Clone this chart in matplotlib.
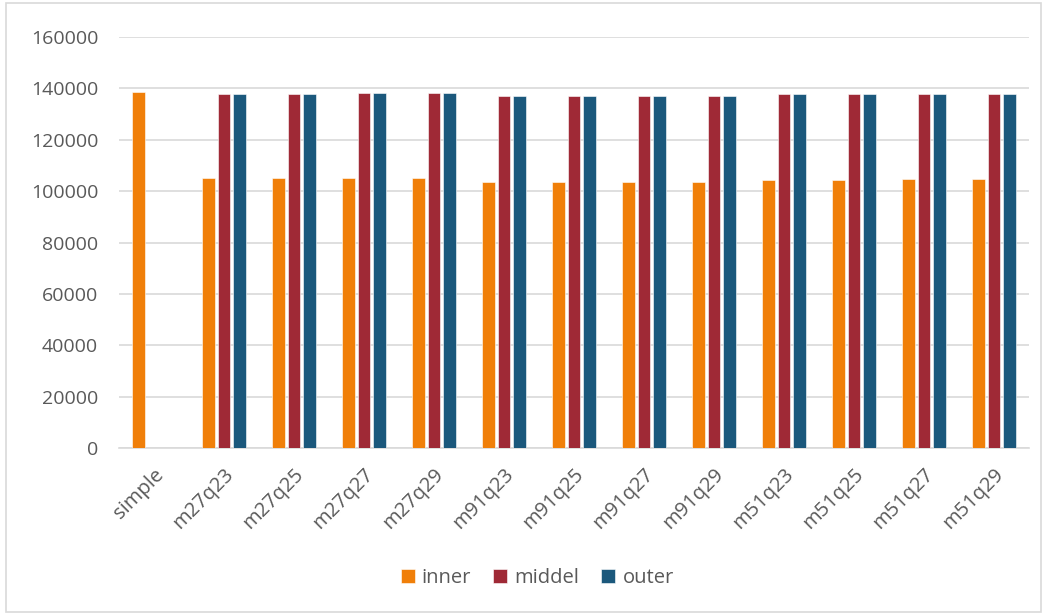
import numpy as np
import matplotlib.pyplot as plt
from matplotlib.patches import Rectangle

# Data
categories = ['simple', 'm27q23', 'm27q25', 'm27q27', 'm27q29',
              'm91q23', 'm91q25', 'm91q27', 'm91q29',
              'm51q23', 'm51q25', 'm51q27', 'm51q29']
inner = [138500, 105000, 105000, 105100, 105100,
         103700, 103700, 103700, 103700,
         104500, 104500, 104600, 104600]
middel = [0, 137800, 138000, 138100, 138100,
          137000, 137000, 137000, 137000,
          137700, 137700, 137800, 137800]
outer = [0, 138000, 138000, 138100, 138100,
         137000, 137000, 137000, 137000,
         137700, 137700, 137800, 137800]

plt.rcParams['font.family'] = ['Open Sans', 'DejaVu Sans']
text_color = '#595959'
grid_color = '#D9D9D9'

fig = plt.figure(figsize=(10.45, 6.15), dpi=100)
ax = fig.add_axes([0.1139, 0.2715, 0.8708, 0.6683])

x = np.arange(len(categories))
width = 0.176
step = 0.223
series = [('inner', inner, '#F07F09'),
          ('middel', middel, '#9F2936'),
          ('outer', outer, '#1B587C')]
for i, (name, vals, color) in enumerate(series):
    ax.bar(x + (i - 1) * step, vals, width, color=color, label=name,
           edgecolor='white', linewidth=0.4, zorder=3)

ax.set_xlim(-0.5, len(categories) - 0.5)
ax.set_ylim(0, 160000)
ax.set_yticks(np.arange(0, 160001, 20000))
ax.set_xticks(x)
ax.set_xticklabels(categories, rotation=45, ha='right', rotation_mode='anchor')

ax.grid(axis='y', color=grid_color, linewidth=1.2, zorder=0)
for side in ['top', 'right', 'left']:
    ax.spines[side].set_visible(False)
ax.spines['bottom'].set_color(grid_color)
ax.spines['bottom'].set_linewidth(1.2)
ax.tick_params(axis='y', length=0, pad=15, labelsize=14, labelcolor=text_color)
ax.tick_params(axis='x', length=0, pad=12, labelsize=14.5, labelcolor=text_color)

leg = fig.legend(loc='center', bbox_to_anchor=(0.514, 0.06), ncol=3, frameon=False,
                 fontsize=14.5, handlelength=0.7, handleheight=0.7,
                 handletextpad=0.35, columnspacing=1.1)
for t in leg.get_texts():
    t.set_color(text_color)

# chart area border
fig.patches.append(Rectangle((0.006, 0.005), 0.99, 0.99, transform=fig.transFigure,
                             fill=False, edgecolor=grid_color, linewidth=1.2))

fig.savefig('out.png', dpi=100)
